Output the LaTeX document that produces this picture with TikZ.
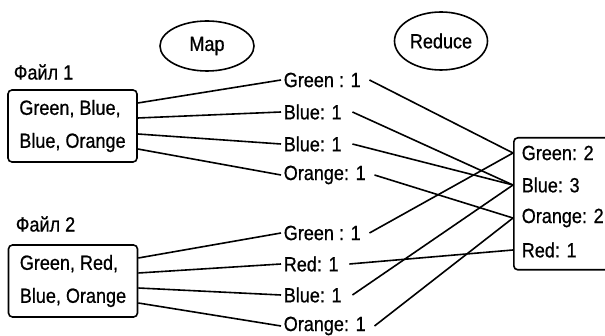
\documentclass[tikz,border=0pt]{standalone}
\usepackage{fontspec}
\setmainfont{Liberation Sans}[FakeStretch=0.88, FakeBold=0.7]
\usetikzlibrary{shapes.geometric}
\begin{document}
\begin{tikzpicture}[x=1pt,y=-1pt, line width=1.6pt,
  lab/.style={font=\fontsize{20.5}{23}\selectfont, inner xsep=2pt, inner ysep=1pt, anchor=west},
  srcbox/.style={draw, rounded corners=4pt, minimum width=129pt, minimum height=72pt,
    align=left, font=\fontsize{20.5}{33}\selectfont, inner xsep=9pt},
  resbox/.style={draw, rounded corners=4pt, minimum width=110pt, minimum height=132pt,
    anchor=north west},
  oval/.style={draw, ellipse, font=\fontsize{20.5}{23}\selectfont, inner sep=0pt},
  link/.style={line width=1.6pt}]
\useasboundingbox (0,0) rectangle (605,336);
\clip (0,0) rectangle (605,336);

% phase ovals
\node[oval, minimum width=94pt, minimum height=50pt] (map) at (207,46) {Map};
\node[oval, minimum width=93pt, minimum height=58pt] (red) at (441,41) {Reduce};

% source files
\node[lab] (f1) at (11,72) {Файл 1};
\node[srcbox] (s1) at (72.5,126) {Green, Blue,\\Blue, Orange};
\node[lab] (f2) at (13,224) {Файл 2};
\node[srcbox] (s2) at (73,281) {Green, Red,\\Blue, Orange};

% map outputs
\node[lab] (g1) at (281,80)  {Green : 1};
\node[lab] (b1) at (281,112) {Blue: 1};
\node[lab] (b2) at (281,144) {Blue: 1};
\node[lab] (o1) at (281,175) {Orange: 1};
\node[lab] (g2) at (281,233) {Green : 1};
\node[lab] (r2) at (281,264) {Red: 1};
\node[lab] (b3) at (281,295) {Blue: 1};
\node[lab] (o2) at (281,326) {Orange: 1};

% result
\node[resbox] (res) at (513,137) {};
\node[lab] (tG) at (519,153) {Green: 2};
\node[lab] (tB) at (519,185) {Blue: 3};
\node[lab] (tO) at (519,218) {Orange: 2};
\node[lab] (tR) at (519,250) {Red: 1};

% file 1 -> map outputs
\draw[link] ([yshift=23pt]s1.east) -- (g1.west);
\draw[link] ([yshift=8pt]s1.east)  -- (b1.west);
\draw[link] ([yshift=-8pt]s1.east) -- (b2.west);
\draw[link] ([yshift=-23pt]s1.east) -- (o1.west);
% file 2 -> map outputs
\draw[link] ([yshift=23pt]s2.east) -- (g2.west);
\draw[link] ([yshift=8pt]s2.east)  -- (r2.west);
\draw[link] ([yshift=-7pt]s2.east) -- (b3.west);
\draw[link] ([yshift=-22pt]s2.east) -- (o2.west);

% map outputs -> result
\draw[link] ([xshift=6pt]g1.east) -- (res.west |- tG);
\draw[link] ([xshift=8pt]b1.east) -- (res.west |- tB);
\draw[link] ([xshift=8pt]b2.east) -- (res.west |- tB);
\draw[link] ([xshift=6pt]o1.east) -- (res.west |- tO);
\draw[link] ([xshift=6pt]g2.east) -- (res.west |- tG);
\draw[link] ([xshift=8pt]r2.east) -- (res.west |- tR);
\draw[link] ([xshift=8pt]b3.east) -- (res.west |- tB);
\draw[link] ([xshift=6pt]o2.east) -- (res.west |- tO);
\end{tikzpicture}
\end{document}
